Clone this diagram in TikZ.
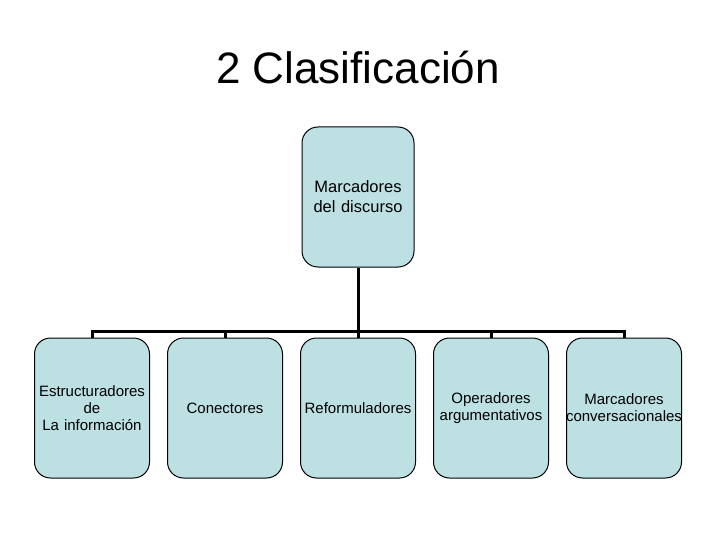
\documentclass[tikz,border=0pt]{standalone}
\usepackage{fontspec}
\setmainfont{Liberation Sans}
\definecolor{boxfill}{HTML}{BDE0E3}
\begin{document}
\begin{tikzpicture}[x=1pt,y=-1pt,
  mbox/.style={draw=black, line width=1pt, fill=boxfill, rounded corners=16pt,
    minimum width=115pt, minimum height=140pt, inner sep=1pt, text width=110pt, align=center,
    font=\fontsize{15}{17}\selectfont},
  conn/.style={line width=3pt}]
\useasboundingbox (0,0) rectangle (720,540);
\node[font=\fontsize{44}{52}\selectfont] (title) at (358,68) {2 Clasificación};
\node[mbox, minimum width=112pt, text width=106pt, font=\fontsize{16.5}{20}\selectfont] (root) at (358,197) {Marcadores\\del discurso};
\node[mbox] (c1) at (92,408) {Estructuradores\\de\\La información};
\node[mbox] (c2) at (225,408) {Conectores};
\node[mbox] (c3) at (358,408) {Reformuladores};
\node[mbox] (c4) at (491,408) {Operadores\\argumentativos};
\node[mbox] (c5) at (624,408) {Marcadores\\\makebox[110pt]{conversacionales}};
\coordinate (bar) at (358,331);
\draw[conn] (root.south) -- (bar);
\draw[conn] (c1.north) |- (bar) -| (c5.north);
\foreach \c in {c2,c3,c4} \draw[conn] (\c.north) -- (\c.north |- bar);
\end{tikzpicture}
\end{document}
